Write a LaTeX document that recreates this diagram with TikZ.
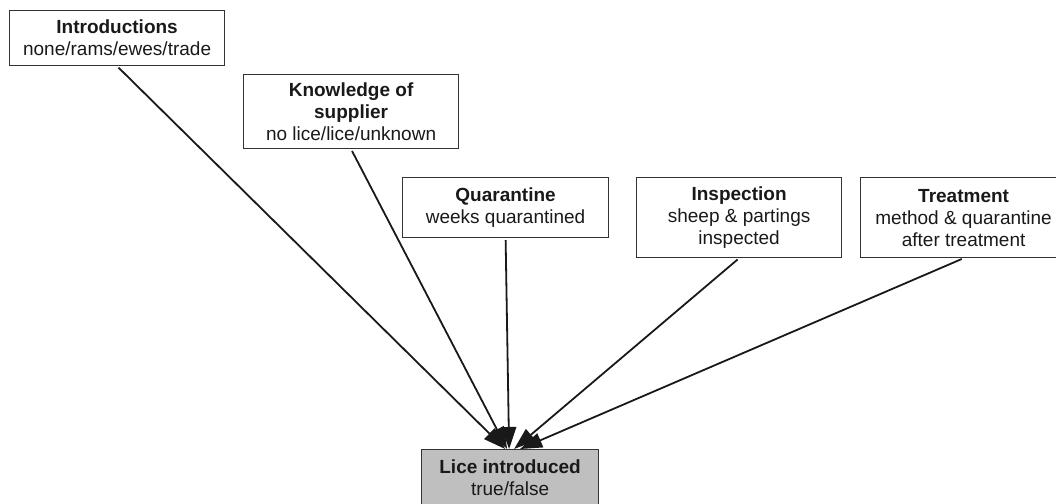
\documentclass[tikz,border=0pt]{standalone}
\usepackage{fontspec}
\setmainfont{Liberation Sans}
\usetikzlibrary{arrows.meta}
\begin{document}
\begin{tikzpicture}[x=1pt,y=-1pt,
  box/.style={draw=black!80, line width=1.2pt, anchor=north west, align=center,
    inner sep=0pt, text=black!90, font=\fontsize{19}{22}\selectfont},
  link/.style={line width=1.8pt, draw=black!90,
    -{Triangle[length=22pt,width=15pt]}, shorten <=2pt}]
\useasboundingbox (0,0) rectangle (1056,503);
\clip (0,0) rectangle (1056,503);

% parent variables
\node[box, minimum width=215pt, minimum height=55pt] (intro) at (9,10)
  {\textbf{Introductions}\\none/rams/ewes/trade};
\node[box, minimum width=215pt, minimum height=74pt] (know) at (243,74)
  {\textbf{Knowledge of}\\\textbf{supplier}\\no lice/lice/unknown};
\node[box, minimum width=206pt, minimum height=60pt] (quar) at (402,177)
  {\textbf{Quarantine}\\weeks quarantined};
\node[box, minimum width=205pt, minimum height=80pt] (insp) at (636,177)
  {\textbf{Inspection}\\sheep \& partings\\inspected};
\node[box, minimum width=206pt, minimum height=80pt] (treat) at (860,177)
  {\textbf{Treatment}\\method \& quarantine\\after treatment};

% child variable
\node[box, fill=black!25, minimum width=177pt, minimum height=56pt] (lice) at (421,449)
  {\textbf{Lice introduced}\\true/false};

% dependencies
\draw[link] (intro.south) -- ([xshift=-5pt]lice.north);
\draw[link] (know.south)  -- ([xshift=-3pt]lice.north);
\draw[link] (quar.south)  -- ([xshift=-1pt]lice.north);
\draw[link] (insp.south)  -- ([xshift=4pt]lice.north);
\draw[link] (treat.south) -- ([xshift=10pt]lice.north);
\end{tikzpicture}
\end{document}
